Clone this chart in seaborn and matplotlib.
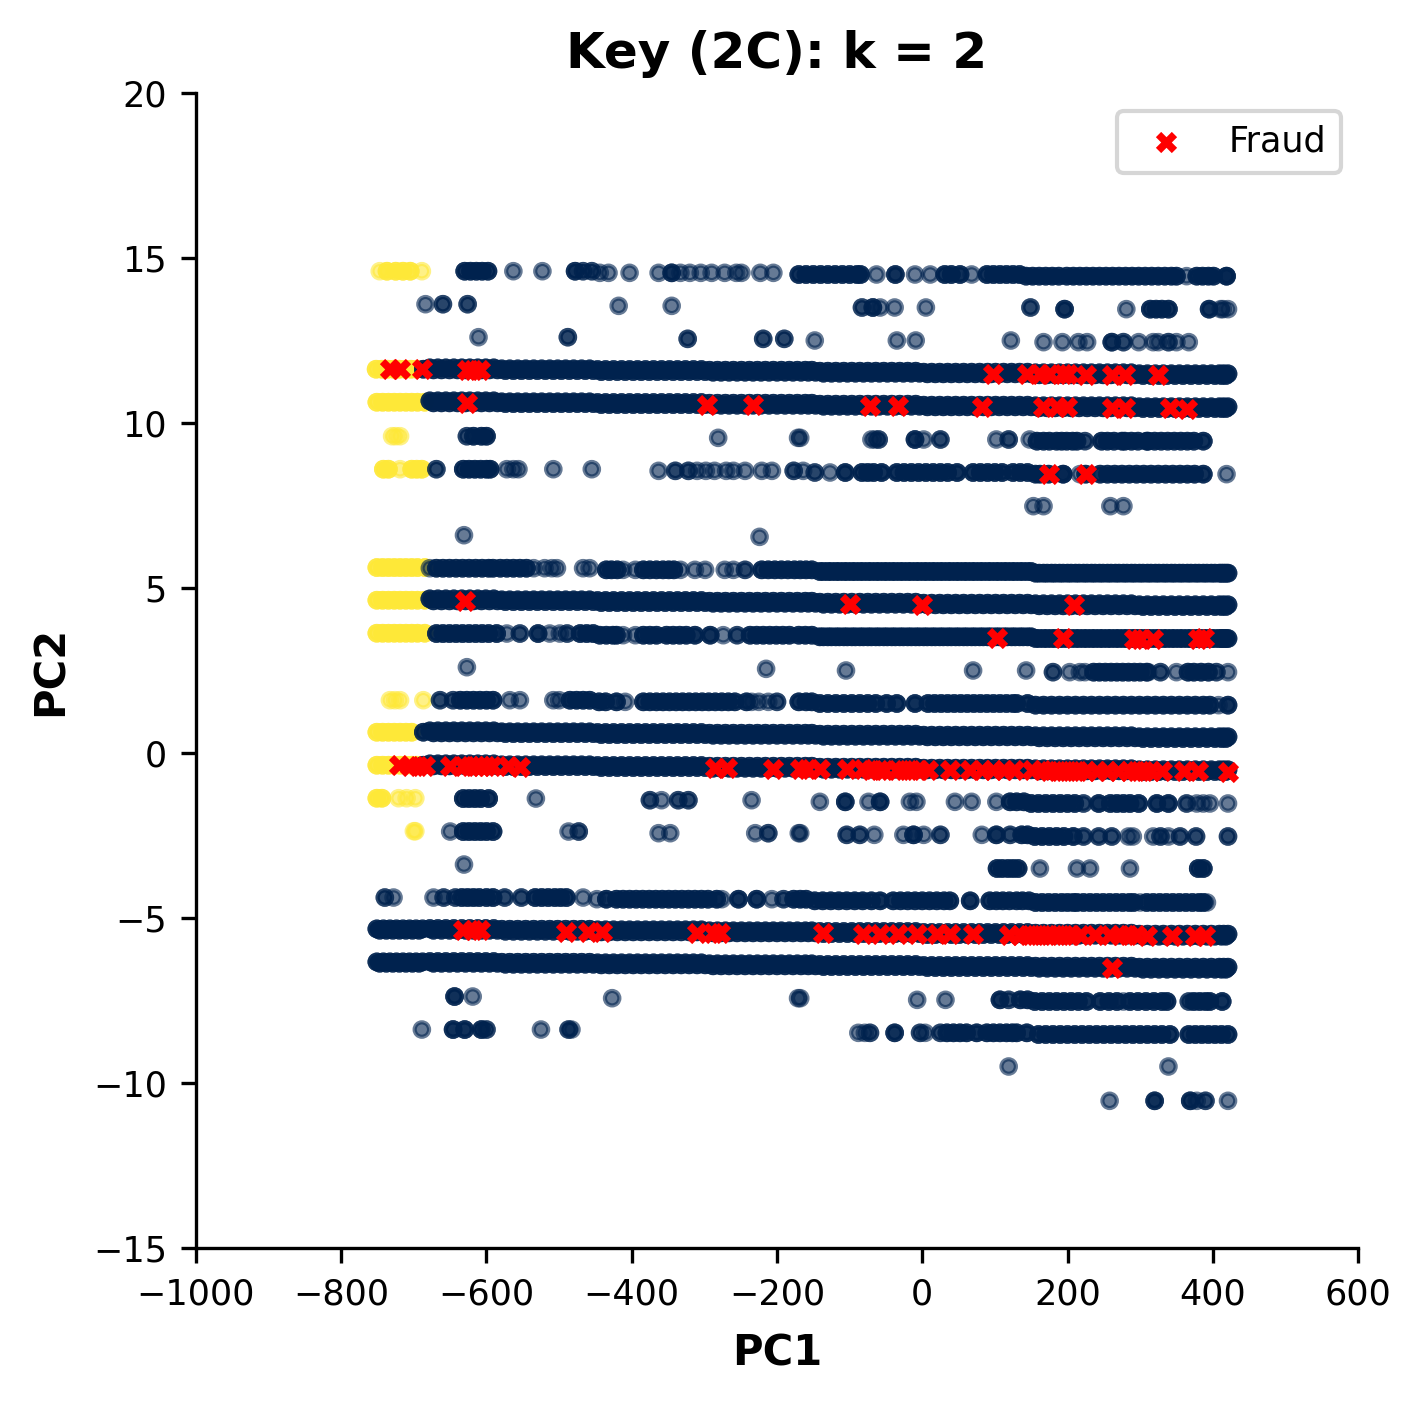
import matplotlib
matplotlib.use("Agg")
import matplotlib.pyplot as plt
import pandas as pd
import seaborn as sns

# PC1 values shared by the rows that are solid from end to end
seg_far = [-751, -742, -733, -724, -715, -706, -697, -688]
seg_far_b = [-747, -738, -729, -720, -711, -702, -693]
seg_1 = [-678, -667, -656, -645, -634, -623, -612, -601, -590]
seg_2 = [-579, -568, -557, -546, -535, -524, -513, -502, -491, -480, -469, -458]
seg_3 = [-447, -436, -425, -414, -403, -392, -381, -370, -359, -348, -337, -326, -315, -304]
seg_4 = [-293, -282, -271, -260, -249, -238, -227, -216, -205, -194, -183, -172, -161, -152]
seg_5 = [-141, -130, -119, -108, -97, -86, -75, -64, -53, -42, -31, -20, -9]
seg_6 = [2, 13, 24, 35, 46, 57, 68, 79, 90, 101, 112, 123, 134, 145]
seg_7 = [156, 167, 178, 189, 200, 211, 222, 233, 244, 255, 266, 277, 288]
seg_8 = [299, 310, 321, 332, 343, 354, 365, 376, 387, 398, 409, 415, 421]
seg_1b = [-673, -662, -651, -640, -629, -618, -607, -596, -585]
seg_2b = [-574, -563, -552, -541, -530, -519, -508, -497, -486, -475, -464, -453]
seg_3b = [-442, -431, -420, -409, -398, -387, -376, -365, -354, -343, -332, -321, -310, -299]
seg_4b = [-288, -277, -266, -255, -244, -233, -222, -211, -200, -189, -178, -167, -157, -147]
seg_5b = [-136, -125, -114, -103, -92, -81, -70, -59, -48, -37, -26, -15, -4]
seg_6b = [7, 18, 29, 40, 51, 62, 73, 84, 95, 106, 117, 128, 139, 150]
seg_7b = [161, 172, 183, 194, 205, 216, 227, 238, 249, 260, 271, 282, 293]
seg_8b = [304, 315, 326, 337, 348, 359, 370, 381, 392, 403, 412, 418]
seg_c = seg_5 + seg_5b + seg_6 + seg_6b
seg_d = seg_7 + seg_7b + seg_8 + seg_8b

# PC2 of each solid row, one value per segment, upper and lower edge of the row
full_11_y = [11.67, 11.64, 11.62, 11.6, 11.57, 11.54, 11.52, 11.49]
full_11b_y = [11.61, 11.59, 11.56, 11.54, 11.51, 11.49, 11.46, 11.44]
full_10_y = [10.67, 10.64, 10.62, 10.6, 10.57, 10.54, 10.52, 10.49]
full_10b_y = [10.61, 10.59, 10.56, 10.54, 10.51, 10.49, 10.46, 10.44]
full_4_y = [4.67, 4.64, 4.62, 4.6, 4.57, 4.54, 4.52, 4.49]
full_4b_y = [4.61, 4.59, 4.56, 4.54, 4.51, 4.49, 4.46, 4.44]
full_0_y = [0.67, 0.64, 0.62, 0.6, 0.57, 0.54, 0.52, 0.49]
full_0b_y = [0.61, 0.59, 0.56, 0.54, 0.51, 0.49, 0.46, 0.44]
full_m0_y = [-0.33, -0.36, -0.38, -0.4, -0.43, -0.46, -0.48, -0.51]
full_m0b_y = [-0.39, -0.41, -0.44, -0.46, -0.49, -0.51, -0.54, -0.56]
full_m5_y = [-5.32, -5.34, -5.36, -5.39, -5.41, -5.44, -5.46, -5.49]
full_m5b_y = [-5.37, -5.4, -5.42, -5.45, -5.47, -5.5, -5.52, -5.55]
full_m6_y = [-6.32, -6.34, -6.36, -6.39, -6.41, -6.44, -6.46, -6.49]
full_m6b_y = [-6.37, -6.4, -6.42, -6.45, -6.47, -6.5, -6.52, -6.55]

# partial rows: (PC2, single points, points stacked three deep)
row_14 = [
    (14.6, [-563, -523, -467, -455, -467, -455], [-630, -622, -614, -606, -598, -478]),
    (14.55, [-444, -432, -403, -363, -333, -320, -305, -290, -272, -256, -249, -223, -205], [-345]),
    (14.5, [-63, -10, 11, 68], [-170, -160, -150, -140, -130, -120, -110, -100, -90, -85, -37, 31, 40, 52, 89, 98, 107, 116, 125, 134]),
    (14.45, [364, 419], [143, 152, 161, 170, 179, 188, 199, 208, 217, 226, 235, 244, 253, 262, 271, 280, 289, 298, 307, 316, 325, 334, 343, 350, 378, 386, 394, 401, 419]),
]
row_13 = [
    (13.6, [-684, -660, -660, -626, -626], []),
    (13.55, [-418, -345], []),
    (13.5, [-83, -83, -58, -38, 5, 149, 149], [-68]),
    (13.45, [281, 411, 421, 414], [196, 314, 322, 330, 339, 395]),
]
row_12 = [
    (12.6, [-611, -488, -488], []),
    (12.55, [-323, -323, -219, -219, -190, -190], []),
    (12.5, [-148, -35, -9, 122], []),
    (12.45, [167, 193, 215, 227, 277, 277, 298, 318, 325, 339, 339, 350, 367], [261]),
]
row_9 = [
    (9.6, [-627, -627], [-618, -607, -600]),
    (9.55, [-281, -171, -168], []),
    (9.5, [-70, -65, -60, -60, 2, 25, 25, 102, 119, 119, 148], [-10]),
    (9.45, [224, 224], [158, 167, 175, 185, 192, 199, 207, 213, 247, 255, 264, 275, 279, 288, 297, 309, 311, 320, 329, 338, 347, 356, 365, 374, 387]),
]
row_8 = [
    (8.6, [-669, -669, -572, -563, -556, -508, -455], [-632, -624, -616, -608, -600, -595]),
    (8.55, [-363, -340, -340, -322, -322, -310, -298, -286, -270, -260, -244, -221, -207, -177, -177, -164], []),
    (8.5, [-148, -148, -127], [-106, -83, -75, -67, -56, -35, -25, -15, -5, 5, 15, 25, 35, 48, 70, 80, 90, 100, 110, 125, 135, 145]),
    (8.45, [194, 217, 419], [156, 162, 174, 194, 225, 245, 255, 265, 275, 285, 295, 305, 315, 325, 335, 345, 355, 365, 375, 387]),
]
row_7 = [(7.48, [153, 167, 259, 277], [])]
row_6 = [(6.6, [-631], []), (6.55, [-224], [])]
row_5 = [
    (5.6, [-678, -535, -520, -510, -503, -467, -458], [-669, -660, -651, -642, -633, -624, -615, -606, -597, -591, -581, -572, -563, -554, -545]),
    (5.55, [-412, -395, -333, -313, -299, -272, -260, -244, -244], [-435, -428, -420, -384, -375, -366, -357, -349, -342, -221, -212, -203, -194, -185, -176, -168, -160, -152]),
    (5.5, [], seg_c),
    (5.45, [], seg_d),
]
row_3 = [
    (3.62, [-572, -554, -554, -513, -499, -489, -489], [-669, -660, -651, -642, -633, -624, -615, -606, -597, -586, -529, -471, -462, -453]),
    (3.57, [-412, -395, -274, -255, -255], [-444, -435, -426, -421, -384, -375, -366, -352, -343, -334, -325, -313, -292, -237, -228, -219, -210, -201, -192, -183, -170, -161, -152]),
    (3.52, [], seg_c),
    (3.47, [], seg_d),
]
row_2 = [
    (2.6, [-627], []),
    (2.55, [-215], []),
    (2.5, [-105, 70, 143], []),
    (2.45, [180, 180, 203, 217, 224, 311, 328, 328, 350, 405, 405, 421], [236, 244, 252, 260, 268, 276, 284, 292, 300, 309, 366, 374, 384, 394]),
]
row_1 = [
    (1.6, [-664, -664, -646, -646, -568, -554, -508, -500], [-636, -627, -618, -609, -600, -591, -485, -476, -467, -458]),
    (1.55, [-409, -235, -225, -212, -200, -200], [-445, -436, -421, -384, -375, -366, -357, -348, -339, -330, -321, -312, -303, -294, -285, -276, -267, -258, -242, -170, -160, -152]),
    (1.5, [], [-141, -130, -119, -108, -97, -86, -75, -64, -49, -35, -10, 8, 17, 26, 35, 44, 53, 62, 71, 80, 89, 98, 107, 116, 125, 130, 145]),
    (1.45, [408], [156, 167, 178, 189, 200, 211, 222, 233, 244, 255, 266, 277, 288, 299, 310, 321, 332, 343, 354, 365, 376, 387, 396, 421]),
]
row_m1 = [
    (-1.38, [-532], [-632, -624, -616, -608, -597]),
    (-1.43, [-375, -375, -359, -336, -336, -322, -322, -235], []),
    (-1.48, [-141, -74, -17, -8, 45, 68, 102], [-106, -58, 121, 130, 140]),
    (-1.53, [222, 222, 364, 364, 378, 387, 396, 421], [150, 160, 170, 180, 190, 200, 210, 243, 259, 268, 277, 286, 298, 323, 339]),
]
row_m2 = [
    (-2.38, [-650, -487, -473, -473], [-632, -624, -616, -608, -600, -591]),
    (-2.43, [-363, -347, -230, -212, -212, -170, -168], []),
    (-2.48, [-104, -104, -86, -86, -66, -26, 2, 25, 25, 82, 121, 121], [-12, 102, 137, 145]),
    (-2.53, [222, 222, 243, 243, 261, 261, 284, 290, 318, 328, 328, 339, 355, 355, 377, 377, 421, 421], [155, 165, 175, 185, 195, 208]),
]
row_m3 = [
    (-3.38, [-631], []),
    (-3.5, [162, 213, 231, 286], [103, 110, 118, 125, 132, 380, 387]),
]
row_m4 = [
    (-4.38, [-740, -740, -728, -673, -659, -659, -643, -643, -575, -575, -552, -552, -467], [-634, -626, -618, -610, -600, -591, -533, -524, -515, -506, -498, -490]),
    (-4.43, [-448, -276, -207, -191, -191], [-435, -421, -412, -403, -394, -385, -376, -367, -358, -349, -340, -331, -322, -313, -304, -295, -283, -253, -228, -177, -168, -160]),
    (-4.48, [], [-148, -137, -126, -115, -104, -93, -82, -70, -58, -40, -30, -20, -10, 0, 10, 20, 30, 38, 66, 93, 102, 111, 120, 130, 138, 147]),
    (-4.53, [300, 392], [156, 165, 174, 183, 192, 200, 208, 213, 222, 231, 240, 249, 258, 267, 276, 285, 291, 309, 318, 327, 336, 345, 354, 363, 372, 381, 387]),
]
row_m7 = [
    (-7.38, [-619], [-644]),
    (-7.43, [-427, -171, -168], []),
    (-7.48, [-7, 32, 119, 119], [107, 135, 145]),
    (-7.53, [277, 367, 367], [155, 165, 175, 185, 195, 205, 215, 226, 245, 257, 268, 286, 297, 308, 319, 330, 337, 374, 382, 390, 396, 413]),
]
row_m8 = [
    (-8.38, [-689, -600, -600, -525, -487, -487, -483], [-646, -630, -607]),
    (-8.48, [-88, -79, -72, -72, -3, -3, 4, 25, 25], [-38, 34, 43, 52, 61, 75, 89, 98, 107, 116, 124, 130, 144]),
    (-8.53, [], [160, 170, 180, 190, 200, 210, 220, 230, 240, 250, 260, 270, 280, 290, 300, 310, 320, 330, 341, 367, 376, 385, 394, 403, 412, 421]),
]
row_m9 = [(-9.5, [119, 339], [])]
row_m10 = [(-10.54, [258, 378, 390, 390, 421], [320, 369])]

# yellow cluster, same layout
yellow_rows = [
    (14.6, [-747, -689], [-737, -725, -715, -705]),
    (11.63, [], [-752, -744, -736, -728, -720, -712, -704, -696]),
    (10.63, [], [-751, -743, -735, -727, -719, -711, -703, -695, -685]),
    (9.6, [-730, -725, -719], []),
    (8.6, [-719], [-742, -735, -703, -696, -689]),
    (5.62, [], [-751, -743, -735, -727, -719, -711, -703, -695, -685]),
    (4.63, [], [-751, -743, -735, -727, -719, -711, -703, -695, -685]),
    (3.63, [], [-751, -743, -735, -727, -719, -711, -703, -695, -685]),
    (1.6, [-733, -726, -719, -687], []),
    (0.63, [], [-751, -743, -735, -727, -719, -711, -703]),
    (-0.37, [], [-751, -743, -735, -727, -719, -711, -703, -696]),
    (-1.37, [-721, -710, -698], [-751, -744]),
    (-2.37, [-700, -698], []),
]

# fraud cases
fraud_x = [-733, -719, -689, -627, -619, -609, 97, 144, 162, 174, 194, 201, 226, 261, 279, 325,
           -627, -296, -233, -72, -34, 82, 166, 185, 199, 261, 279, 341, 364,
           174, 225,
           -629, -100, 0, 209,
           103, 194, 291, 300, 318, 380, 388,
           -721, -706, -694, -685, -650, -632, -623, -615, -607, -600, -593, -570, -554, -285, -269, -206,
           -168, -159, -141, -104, -81, -70, -60, -53, -35, -25, -15, -5, 8, 38, 66, 82, 98, 112, 126,
           151, 165, 175, 185, 195, 205, 215, 225, 240, 255, 270, 285, 295, 305, 315, 330, 360, 380, 421,
           -632, -618, -609, -490, -460, -441, -310, -288, -279,
           -137, -81, -58, -34, -7, 20, 38, 70, 119, 135, 145, 155, 165, 175, 185, 195, 205, 217, 238, 259, 272, 283, 295, 309, 344, 376, 390,
           261]
fraud_y = [11.63, 11.63, 11.63, 11.62, 11.62, 11.62, 11.47, 11.47, 11.47, 11.47, 11.47, 11.47, 11.46, 11.46, 11.46, 11.46,
           10.6, 10.56, 10.56, 10.52, 10.52, 10.5, 10.47, 10.47, 10.47, 10.46, 10.46, 10.44, 10.42,
           8.45, 8.45,
           4.6, 4.52, 4.5, 4.47,
           3.5, 3.47, 3.46, 3.46, 3.46, 3.45, 3.47,
           -0.37, -0.38, -0.38, -0.38, -0.38, -0.39, -0.39, -0.39, -0.39, -0.4, -0.4, -0.4, -0.41, -0.44, -0.45, -0.47,
           -0.48, -0.48, -0.48, -0.49, -0.49, -0.5, -0.5, -0.5, -0.5, -0.5, -0.5, -0.51, -0.51, -0.51, -0.52, -0.52, -0.52, -0.52, -0.52,
           -0.53, -0.53, -0.54, -0.54, -0.54, -0.54, -0.54, -0.54, -0.54, -0.55, -0.55, -0.55, -0.55, -0.55, -0.55, -0.55, -0.55, -0.56, -0.58,
           -5.36, -5.36, -5.37, -5.41, -5.41, -5.42, -5.44, -5.44, -5.44,
           -5.46, -5.47, -5.47, -5.47, -5.48, -5.49, -5.49, -5.49, -5.5, -5.5, -5.5, -5.51, -5.51, -5.51, -5.51, -5.52, -5.52, -5.52, -5.52, -5.52, -5.53, -5.53, -5.53, -5.54, -5.54, -5.55, -5.55,
           -6.52]

partial_rows = [row_14, row_13, row_12, row_9, row_8, row_7, row_6, row_5, row_3, row_2, row_1,
                row_m1, row_m2, row_m3, row_m4, row_m7, row_m8, row_m9, row_m10]
upper_rows = [full_11_y, full_10_y, full_4_y, full_0_y, full_m0_y, full_m5_y, full_m6_y]
lower_rows = [full_11b_y, full_10b_y, full_4b_y, full_0b_y, full_m0b_y, full_m5b_y, full_m6b_y]
segments = [seg_1, seg_2, seg_3, seg_4, seg_5, seg_6, seg_7, seg_8]
segments_b = [seg_1b, seg_2b, seg_3b, seg_4b, seg_5b, seg_6b, seg_7b, seg_8b]


def collect(chunks, cluster, out):
    for y, singles, stacked in chunks:
        for x in singles:
            out.append((x, y, cluster))
        for x in stacked:
            out += [(x, y, cluster)] * 3


records = []
collect(yellow_rows, 1, records)
for levels in upper_rows:
    collect([(y, [], seg) for y, seg in zip(levels, segments)], 0, records)
for levels in lower_rows:
    collect([(y, [], seg) for y, seg in zip(levels, segments_b)], 0, records)
collect([(11.63, [], [-687]), (0.63, [], [-687]), (-0.37, [], [-687])], 0, records)
collect([(-5.33, [], seg_far), (-5.37, [], seg_far_b), (-6.33, [], seg_far), (-6.37, [], seg_far_b)], 0, records)
for row in partial_rows:
    collect(row, 0, records)
df = pd.DataFrame(records, columns=["PC1", "PC2", "cluster"])

fig, ax = plt.subplots(figsize=(1420 / 300, 1404 / 300), dpi=300)
fig.subplots_adjust(left=196 / 1420, right=1358 / 1420, top=1 - 93 / 1404, bottom=1 - 1248 / 1404)

sns.scatterplot(data=df, x="PC1", y="PC2", hue="cluster", palette={0: "#00224e", 1: "#fee838"}, s=12,
                alpha=0.6, edgecolor="face", linewidth=1, legend=False, ax=ax)
sns.scatterplot(x=fraud_x, y=fraud_y, color="red", marker="X", s=26, linewidth=0, label="Fraud", ax=ax)

ax.set_xlim(-1000, 600)
ax.set_ylim(-15, 20)
ax.set_xticks([-1000, -800, -600, -400, -200, 0, 200, 400, 600])
ax.set_yticks([-15, -10, -5, 0, 5, 10, 15, 20])
ax.tick_params(labelsize=8.4)
ax.set_title("Key (2C): k = 2", fontsize=12, fontweight="bold")
ax.set_xlabel("PC1", fontsize=10, fontweight="bold", labelpad=5)
ax.set_ylabel("PC2", fontsize=10, fontweight="bold", labelpad=5)
ax.legend(loc="upper right", fontsize=8.4)
sns.despine(ax=ax)

fig.savefig("out.png", dpi=300)
